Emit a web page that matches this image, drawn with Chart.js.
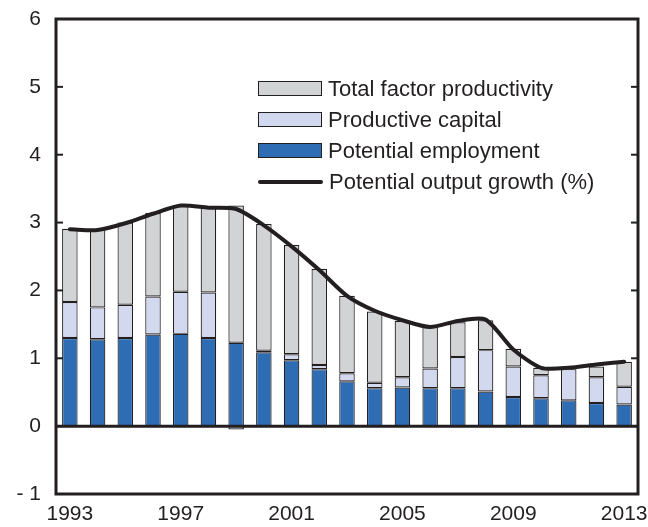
<!DOCTYPE html>
<html><head><meta charset="utf-8">
<script src="https://cdn.jsdelivr.net/npm/chart.js@4/dist/chart.umd.min.js"></script>
<style>
html,body{margin:0;padding:0;background:#fff;}
#wrap{position:relative;width:648px;height:527px;}
#legend{position:absolute;left:258px;top:73px;font-family:"Liberation Sans",Arial,sans-serif;font-size:22px;color:#231f20;}
.row{display:flex;align-items:center;height:31px;}
.sw{width:62px;height:13px;border:1.5px solid #231f20;margin-right:6px;box-sizing:content-box;}
.ln{width:65px;height:4px;background:#231f20;margin-right:6px;border-radius:2px;}
</style></head>
<body><div id="wrap"><canvas id="c" width="648" height="527"></canvas>
<div id="legend"></div></div>
<script>
const years = ['1993','1994','1995','1996','1997','1998','1999','2000','2001','2002','2003','2004','2005','2006','2007','2008','2009','2010','2011','2012','2013'];
const employment = [1.30,1.28,1.30,1.35,1.36,1.30,1.23,1.09,0.97,0.84,0.66,0.56,0.57,0.56,0.56,0.51,0.43,0.41,0.38,0.34,0.32];
const capital = [0.53,0.47,0.49,0.56,0.62,0.67,-0.05,0.02,0.09,0.06,0.12,0.08,0.15,0.29,0.46,0.61,0.45,0.34,0.46,0.38,0.26];
const tfp = [1.08,1.15,1.21,1.23,1.28,1.25,2.02,1.87,1.61,1.42,1.14,1.05,0.83,0.61,0.51,0.44,0.26,0.11,0.00,0.16,0.37];
const outputGrowth = [2.90,2.89,2.99,3.13,3.25,3.22,3.20,2.96,2.65,2.30,1.92,1.70,1.56,1.46,1.55,1.57,1.13,0.86,0.86,0.91,0.95];
const yTicks = [-1,0,1,2,3,4,5,6];

const INK = '#231f20';
const FONT = '"Liberation Sans", Arial, sans-serif';

const framePlugin = {
  id: 'frame',
  afterDatasetsDraw(chart) {
    const {ctx, chartArea: a, scales: {y}} = chart;
    ctx.save();
    ctx.strokeStyle = INK;
    ctx.lineWidth = 3;
    ctx.strokeRect(a.left, a.top, a.right - a.left, a.bottom - a.top);
    ctx.lineWidth = 2;
    yTicks.forEach(v => {
      const py = y.getPixelForValue(v);
      ctx.beginPath(); ctx.moveTo(a.left, py); ctx.lineTo(a.left + 7, py); ctx.stroke();
      ctx.beginPath(); ctx.moveTo(a.right, py); ctx.lineTo(a.right - 7, py); ctx.stroke();
    });
    const z = y.getPixelForValue(0);
    ctx.lineWidth = 3;
    ctx.beginPath(); ctx.moveTo(a.left, z); ctx.lineTo(a.right, z); ctx.stroke();
    ctx.restore();
  }
};

const barStyle = {borderColor: INK, borderWidth: 1.2, borderSkipped: false, barPercentage: 0.56, categoryPercentage: 1, order: 1, stack: 's'};

new Chart(document.getElementById('c'), {
  type: 'bar',
  data: {
    labels: years,
    datasets: [
      Object.assign({label: 'Potential employment', data: employment, backgroundColor: '#2e6db4'}, barStyle),
      Object.assign({label: 'Productive capital', data: capital, backgroundColor: '#d2d8ee'}, barStyle),
      Object.assign({label: 'Total factor productivity', data: tfp, backgroundColor: '#d1d3d4'}, barStyle),
      {type: 'line', label: 'Potential output growth (%)', data: outputGrowth, borderColor: INK, borderWidth: 4, pointRadius: 0, tension: 0.25, fill: false, order: 0, borderCapStyle: 'round'}
    ]
  },
  options: {
    responsive: false,
    animation: false,
    layout: {padding: {top: 19, right: 0, left: 0, bottom: 0}},
    plugins: {legend: {display: false}, tooltip: {enabled: false}},
    scales: {
      x: {
        stacked: true,
        offset: true,
        grid: {display: false, drawTicks: false},
        border: {display: false},
        ticks: {autoSkip: false, maxRotation: 0, padding: 8, color: INK, font: {family: FONT, size: 21},
          callback: function(v, i) { return i % 4 === 0 ? years[i] : ''; }},
        afterFit: s => { s.height = 33; s.paddingLeft = 0; s.paddingRight = 10; }
      },
      y: {
        stacked: true,
        min: -1, max: 6,
        grid: {display: false, drawTicks: false},
        border: {display: false},
        afterBuildTicks: s => { s.ticks = yTicks.map(v => ({value: v})); },
        ticks: {padding: 15, color: INK, font: {family: FONT, size: 21},
          callback: v => v === -1 ? '- 1' : String(v)},
        afterFit: s => { s.width = 56; s.paddingTop = 0; s.paddingBottom = 0; }
      }
    }
  },
  plugins: [framePlugin]
});

const legendItems = [
  {label: 'Total factor productivity', color: '#d1d3d4'},
  {label: 'Productive capital', color: '#d2d8ee'},
  {label: 'Potential employment', color: '#2e6db4'},
  {label: 'Potential output growth (%)', line: true}
];
const lg = document.getElementById('legend');
legendItems.forEach(it => {
  const r = document.createElement('div'); r.className = 'row';
  const s = document.createElement('div');
  if (it.line) { s.className = 'ln'; } else { s.className = 'sw'; s.style.background = it.color; }
  const t = document.createElement('span'); t.textContent = it.label;
  r.appendChild(s); r.appendChild(t); lg.appendChild(r);
});
</script></body></html>
